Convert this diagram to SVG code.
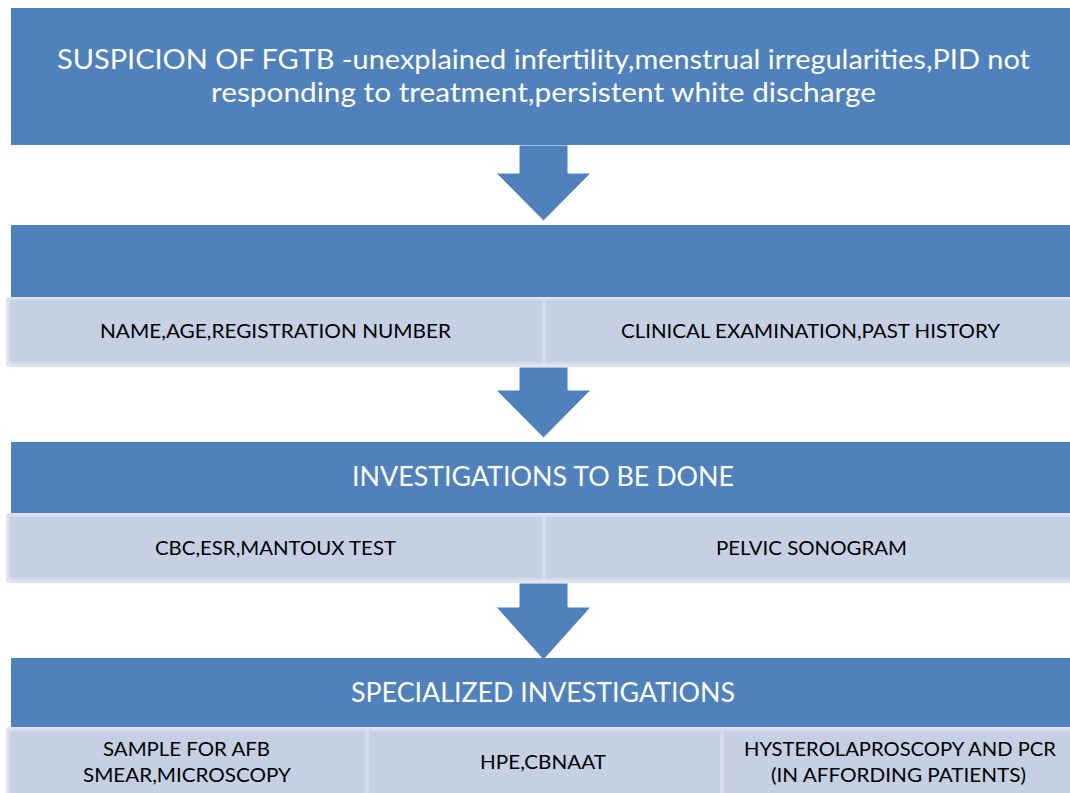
<svg xmlns="http://www.w3.org/2000/svg" width="1070" height="793" viewBox="0 0 1070 793">
<style>
.blue{fill:#4F81BD;}
.rowbg{fill:#DCE3EE;}
.cell{fill:#C5D0E3;stroke:#D6DDEA;stroke-width:2;}
.arrow{fill:#4F81BD;stroke:#FFFFFF;stroke-width:1;}
.wt{font-family:Lato,"Open Sans","Liberation Sans",sans-serif;fill:#FFFFFF;font-size:26px;text-anchor:middle;}
.bt{font-family:Lato,"Open Sans","Liberation Sans",sans-serif;fill:#000000;font-size:19px;text-anchor:middle;}
</style>
<rect width="1070" height="793" fill="#FFFFFF"/>
<g id="connectors">
<path class="arrow" d="M519,145 H568 V173 H591 L543.5,221 L496,173 H519 Z"/>
<path class="arrow" d="M519,367 H568 V390 H591 L543.5,438 L496,390 H519 Z"/>
<path class="arrow" d="M519,583 H568 V607 H591 L543.5,660 L496,607 H519 Z"/>
</g>
<g id="node-suspicion">
<rect class="blue" x="11" y="8" width="1070" height="137"/>
<text class="wt" x="543.5" y="69" textLength="973" lengthAdjust="spacingAndGlyphs">SUSPICION OF FGTB -unexplained infertility,menstrual irregularities,PID not</text>
<text class="wt" x="543.5" y="102" textLength="665" lengthAdjust="spacingAndGlyphs">responding to treatment,persistent white discharge</text>
</g>
<g id="node-registration">
<rect class="blue" x="11" y="225" width="1070" height="73"/>
<rect class="rowbg" x="6" y="297" width="1070" height="70" rx="3"/>
<rect class="cell" x="9" y="299" width="534" height="64"/>
<rect class="cell" x="545" y="299" width="530" height="64"/>
<text class="bt" x="275.5" y="338" textLength="351" lengthAdjust="spacingAndGlyphs">NAME,AGE,REGISTRATION NUMBER</text>
<text class="bt" x="810.5" y="338" textLength="379" lengthAdjust="spacingAndGlyphs">CLINICAL EXAMINATION,PAST HISTORY</text>
</g>
<g id="node-investigations">
<rect class="blue" x="11" y="442" width="1070" height="72"/>
<text class="wt" x="543" y="486" textLength="382" lengthAdjust="spacingAndGlyphs">INVESTIGATIONS TO BE DONE</text>
<rect class="rowbg" x="6" y="513" width="1070" height="70" rx="3"/>
<rect class="cell" x="9" y="516" width="534" height="63"/>
<rect class="cell" x="545" y="516" width="530" height="63"/>
<text class="bt" x="275.5" y="555" textLength="241" lengthAdjust="spacingAndGlyphs">CBC,ESR,MANTOUX TEST</text>
<text class="bt" x="811.5" y="555" textLength="191" lengthAdjust="spacingAndGlyphs">PELVIC SONOGRAM</text>
</g>
<g id="node-specialized">
<rect class="blue" x="11" y="658" width="1070" height="70"/>
<text class="wt" x="543" y="702" textLength="384" lengthAdjust="spacingAndGlyphs">SPECIALIZED INVESTIGATIONS</text>
<rect class="rowbg" x="6" y="727" width="1070" height="70" rx="3"/>
<rect class="cell" x="9" y="730" width="357" height="66"/>
<rect class="cell" x="368" y="730" width="353" height="66"/>
<rect class="cell" x="723" y="730" width="352" height="66"/>
<text class="bt" x="186.5" y="756" textLength="167" lengthAdjust="spacingAndGlyphs">SAMPLE FOR AFB</text>
<text class="bt" x="187" y="782" textLength="208" lengthAdjust="spacingAndGlyphs">SMEAR,MICROSCOPY</text>
<text class="bt" x="543" y="769" textLength="126" lengthAdjust="spacingAndGlyphs">HPE,CBNAAT</text>
<text class="bt" x="900" y="756" textLength="312" lengthAdjust="spacingAndGlyphs">HYSTEROLAPROSCOPY AND PCR</text>
<text class="bt" x="898.5" y="782" textLength="255" lengthAdjust="spacingAndGlyphs">(IN AFFORDING PATIENTS)</text>
</g>
</svg>
